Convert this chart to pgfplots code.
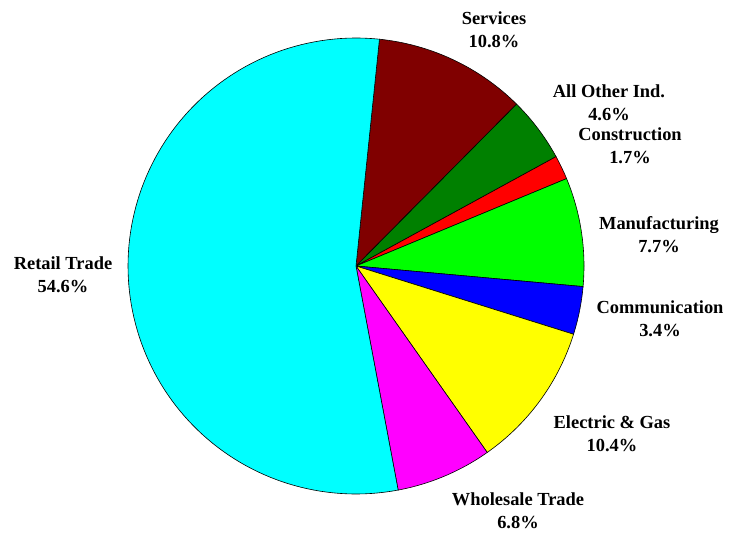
\documentclass[border=0pt]{standalone}
\usepackage{pgfplots}
\pgfplotsset{compat=1.18}
\usepackage{fontspec}
\setmainfont{Liberation Serif}

% slice: cumulative percent before, percent, colour
\newcommand{\slice}[3]{%
  \addplot[draw=black, line width=0.6pt, fill=#3, domain={84.1-3.6*(#1+#2)}:{84.1-3.6*#1}, samples=120]
    ({356+228*cos(x)},{267+228*sin(x)}) -- (axis cs:356,267) -- cycle;
}
% label: x, baseline y (image px), line 1, line 2
\newcommand{\labfont}{\fontsize{18.5}{23}\selectfont\bfseries}
\newcommand{\lab}[4]{%
  \node[anchor=base, font=\labfont] at (axis cs:#1,{531-#2}) {#3};
  \node[anchor=base, font=\labfont] at (axis cs:#1,{531-#2-23}) {#4};
}

\definecolor{maroon}{RGB}{128,0,0}
\definecolor{dgreen}{RGB}{0,128,0}
\definecolor{lime}{RGB}{0,255,0}
\definecolor{pcyan}{RGB}{0,255,255}
\definecolor{pmagenta}{RGB}{255,0,255}
\definecolor{pyellow}{RGB}{255,255,0}
\definecolor{pred}{RGB}{255,0,0}
\definecolor{pblue}{RGB}{0,0,255}

\begin{document}
\begin{tikzpicture}
\begin{axis}[
    xmin=0, xmax=740, ymin=0, ymax=533,
    width=740bp, height=533bp,
    scale only axis,
    hide axis,
    clip=false
]
\path (rel axis cs:0,0) rectangle (rel axis cs:1,1);
\slice{0}{10.8}{maroon}
\slice{10.8}{4.6}{dgreen}
\slice{15.4}{1.7}{pred}
\slice{17.1}{7.7}{lime}
\slice{24.8}{3.4}{pblue}
\slice{28.2}{10.4}{pyellow}
\slice{38.6}{6.8}{pmagenta}
\slice{45.4}{54.6}{pcyan}

\lab{494}{23}{Services}{10.8\%}
\lab{609}{96}{All Other Ind.}{4.6\%}
\lab{630}{139}{Construction}{1.7\%}
\lab{659}{228}{Manufacturing}{7.7\%}
\lab{660}{311}{Communication}{3.4\%}
\lab{612}{426}{Electric \& Gas}{10.4\%}
\lab{518}{503}{Wholesale Trade}{6.8\%}
\lab{63}{268}{Retail Trade}{54.6\%}
\end{axis}
\end{tikzpicture}
\end{document}
